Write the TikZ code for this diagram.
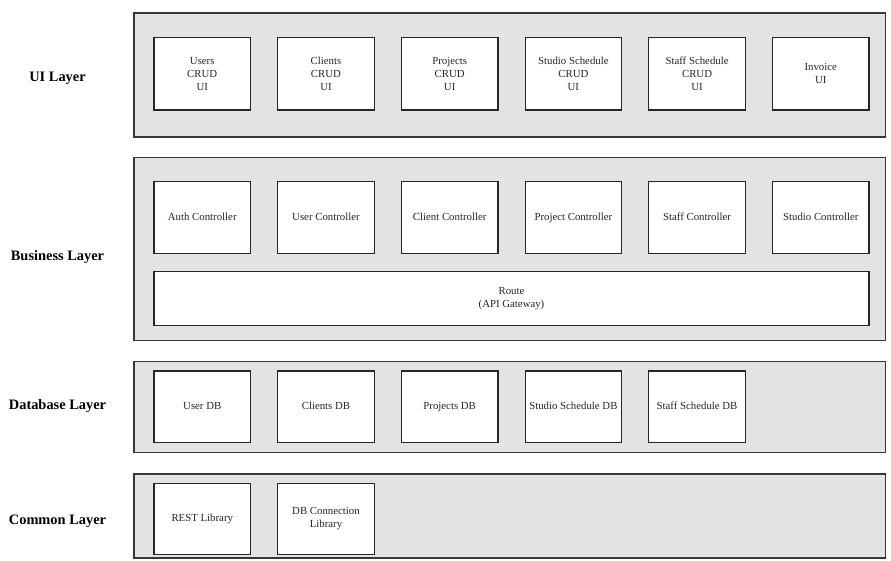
\documentclass[tikz,border=0pt]{standalone}
\usepackage{fontspec}
\setmainfont{Liberation Serif}
\begin{document}
\begin{tikzpicture}[x=1pt,y=-1pt,
  panel/.style={draw=black!78, fill=black!11, line width=1.2pt, anchor=north west,
    inner sep=0pt, outer sep=0pt},
  compbox/.style={draw=black!85, fill=white, line width=1.2pt, anchor=north west,
    inner sep=0pt, outer sep=0pt, minimum width=96.5pt, align=center,
    font=\fontsize{10.8}{12.9}\selectfont, text=black!85},
  oneline/.style={text height=7.6pt, text depth=2.4pt},
  layerlabel/.style={font=\fontsize{14.4}{16}\selectfont\bfseries, anchor=center,
    text height=9.8pt, text depth=3.2pt}]
\useasboundingbox (0,0) rectangle (891,561);

% layer panels
\node[panel, minimum width=751.5pt, minimum height=124pt] (uiP) at (134,13) {};
\node[panel, minimum width=751.5pt, minimum height=183.5pt] (bizP) at (134,157.3) {};
\node[panel, minimum width=751.5pt, minimum height=91pt] (dbP) at (134,361.7) {};
\node[panel, minimum width=751.5pt, minimum height=84pt] (comP) at (134,474) {};

% layer labels
\node[layerlabel] (uiL) at (57.5,78) {UI Layer};
\node[layerlabel] (bizL) at (57.5,257) {Business Layer};
\node[layerlabel] (dbL) at (57.5,406) {Database Layer};
\node[layerlabel] (comL) at (57.5,521) {Common Layer};

% UI layer
\begin{scope}[every node/.append style={compbox, minimum height=72.5pt}]
\node (ui1) at (154,37.5) {Users\\CRUD\\UI};
\node (ui2) at (277.7,37.5) {Clients\\CRUD\\UI};
\node (ui3) at (401.4,37.5) {Projects\\CRUD\\UI};
\node (ui4) at (525.1,37.5) {Studio Schedule\\CRUD\\UI};
\node (ui5) at (648.8,37.5) {Staff Schedule\\CRUD\\UI};
\node (ui6) at (772.5,37.5) {Invoice\\UI};
\end{scope}

% business layer
\begin{scope}[every node/.append style={compbox, oneline, minimum height=71.6pt}]
\node (c1) at (154,181.7) {Auth Controller};
\node (c2) at (277.7,181.7) {User Controller};
\node (c3) at (401.4,181.7) {Client Controller};
\node (c4) at (525.1,181.7) {Project Controller};
\node (c5) at (648.8,181.7) {Staff Controller};
\node (c6) at (772.5,181.7) {Studio Controller};
\end{scope}
\node[compbox, minimum width=715pt, minimum height=54pt] (route) at (154,271.7)
  {Route\\(API Gateway)};

% database layer
\begin{scope}[every node/.append style={compbox, oneline, minimum height=71.7pt}]
\node (db1) at (154,371) {User DB};
\node (db2) at (277.7,371) {Clients DB};
\node (db3) at (401.4,371) {Projects DB};
\node (db4) at (525.1,371) {Studio Schedule DB};
\node (db5) at (648.8,371) {Staff Schedule DB};
\end{scope}

% common layer
\begin{scope}[every node/.append style={compbox, minimum height=71.4pt}]
\node[oneline] (lib1) at (154,483.3) {REST Library};
\node (lib2) at (277.7,483.3) {DB Connection\\Library};
\end{scope}
\end{tikzpicture}
\end{document}
